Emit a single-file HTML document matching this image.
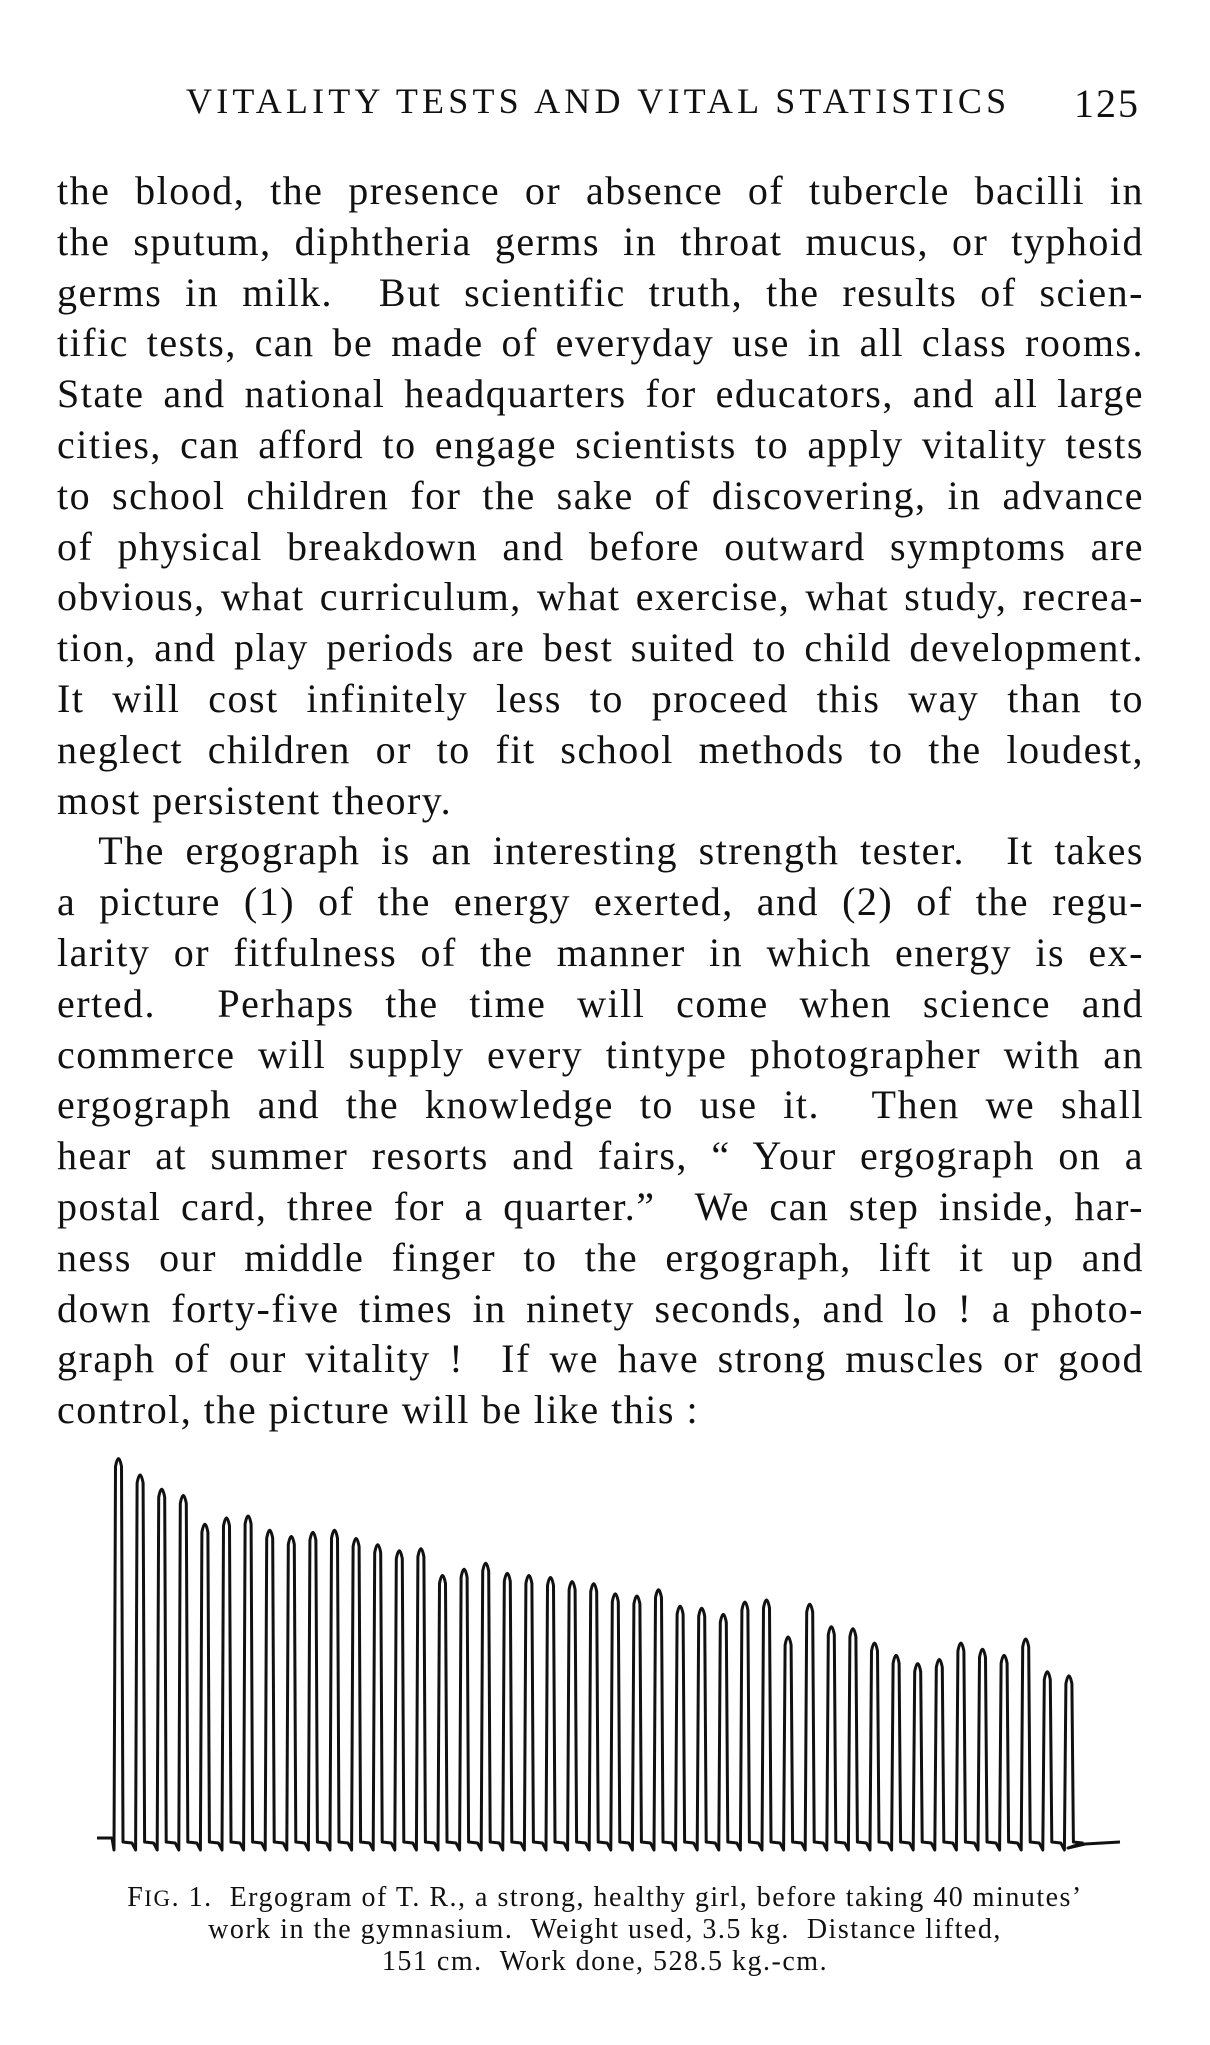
<!DOCTYPE html>
<html><head><meta charset="utf-8"><style>
html,body{margin:0;padding:0;background:#fff;}
body{width:1210px;height:2045px;position:relative;overflow:hidden;font-family:"Liberation Serif",serif;color:#111;}
.hd{position:absolute;top:80px;left:186px;font-size:36px;letter-spacing:4.2px;white-space:nowrap;}
.pn{position:absolute;top:80px;left:1074px;font-size:40px;letter-spacing:2px;}
.ln{position:absolute;left:57px;width:1087px;font-size:40px;line-height:40px;letter-spacing:1.5px;text-align:justify;text-align-last:justify;white-space:nowrap;}
.ln.s{text-align-last:left;}
.cap{position:absolute;left:0;width:1210px;text-align:center;font-size:28px;letter-spacing:1.5px;white-space:nowrap;}
svg{position:absolute;left:0;top:0;}
</style></head><body>
<div class="hd">VITALITY TESTS AND VITAL STATISTICS</div>
<div class="pn">125</div>
<div id="txt"></div>
<svg id="sv" width="1210" height="2045"></svg>
<div class="cap" style="top:1882px">F<span style="font-size:23px">IG</span>. 1. &nbsp;Ergogram of T. R., a strong, healthy girl, before taking 40 minutes’</div>
<div class="cap" style="top:1914px">work in the gymnasium. &nbsp;Weight used, 3.5 kg. &nbsp;Distance lifted,</div>
<div class="cap" style="top:1946px">151 cm. &nbsp;Work done, 528.5 kg.-cm.</div>
<script>
var L=["the blood, the presence or absence of tubercle bacilli in",
"the sputum, diphtheria germs in throat mucus, or typhoid",
"germs in milk. &nbsp;But scientific truth, the results of scien-",
"tific tests, can be made of everyday use in all class rooms.",
"State and national headquarters for educators, and all large",
"cities, can afford to engage scientists to apply vitality tests",
"to school children for the sake of discovering, in advance",
"of physical breakdown and before outward symptoms are",
"obvious, what curriculum, what exercise, what study, recrea-",
"tion, and play periods are best suited to child development.",
"It will cost infinitely less to proceed this way than to",
"neglect children or to fit school methods to the loudest,",
"most persistent theory.",
"&nbsp;&nbsp;The ergograph is an interesting strength tester. &nbsp;It takes",
"a picture (1) of the energy exerted, and (2) of the regu-",
"larity or fitfulness of the manner in which energy is ex-",
"erted. &nbsp;Perhaps the time will come when science and",
"commerce will supply every tintype photographer with an",
"ergograph and the knowledge to use it. &nbsp;Then we shall",
"hear at summer resorts and fairs, “ Your ergograph on a",
"postal card, three for a quarter.” &nbsp;We can step inside, har-",
"ness our middle finger to the ergograph, lift it up and",
"down forty-five times in ninety seconds, and lo ! a photo-",
"graph of our vitality ! &nbsp;If we have strong muscles or good",
"control, the picture will be like this :"];
var h="";
for(var i=0;i<L.length;i++){var y=204+i*50.8-33;var s=(i==12||i==24)?" s":"";
h+='<div class="ln'+s+'" style="top:'+y.toFixed(1)+'px">'+L[i]+'</div>';}
document.getElementById("txt").innerHTML=h;
var z=[140,180,215,230,300,285,280,315,330,320,315,335,350,365,360,425,410,395,420,425,430,440,445,470,475,460,500,505,520,490,485,575,495,550,555,590,620,640,630,590,605,620,580,660,670];
var base=1840,d="M97,1838 L112,1838";
for(var k=0;k<z.length;k++){var x=114+k*21.6;var p=base-(1080-z[k])*0.41;
d+=" L"+x.toFixed(1)+","+(base+10)+" L"+(x+1.5).toFixed(1)+","+(p+12).toFixed(1)+" Q"+(x+4.5).toFixed(1)+","+(p-4).toFixed(1)+" "+(x+7.5).toFixed(1)+","+(p+12).toFixed(1)+" L"+(x+9).toFixed(1)+","+(base+2)+" L"+(x+18).toFixed(1)+","+(base+3);}
d+=" L1068,1848 L1085,1844 L1120,1842";
document.getElementById("sv").innerHTML='<path d="'+d+'" fill="none" stroke="#111" stroke-width="3" stroke-linejoin="round"/>';
</script>
</body></html>
